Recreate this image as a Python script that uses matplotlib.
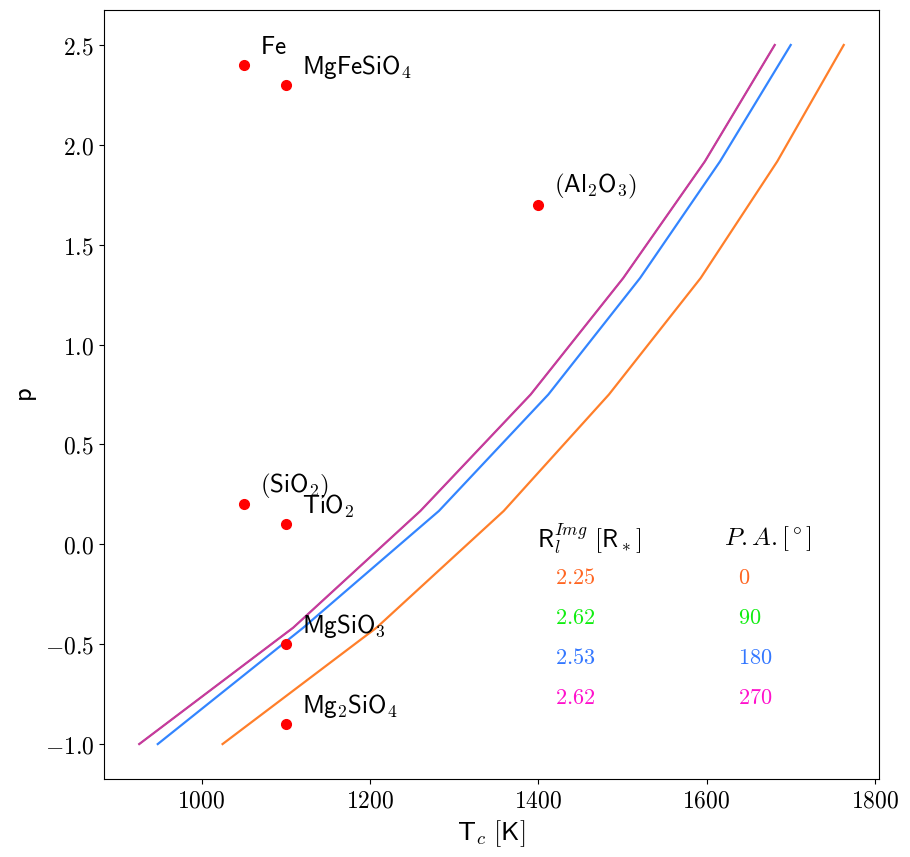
import matplotlib
matplotlib.use("Agg")
import matplotlib.pyplot as plt
from matplotlib.ticker import FuncFormatter

plt.rcParams['mathtext.fontset'] = 'cm'

# Condensation curves: pressure exponent p vs condensation temperature
p_vals = [-1.0, -0.417, 0.167, 0.75, 1.333, 1.917, 2.5]
T_pa0 = [1025, 1208, 1359, 1484, 1593, 1684, 1763]
T_pa90 = [926, 1109, 1260, 1391, 1501, 1598, 1681]
T_pa180 = [948, 1121, 1282, 1412, 1521, 1616, 1700]
T_pa270 = [926, 1109, 1260, 1391, 1501, 1598, 1681]

# Species
species = [r'$\mathsf{Fe}$', r'$\mathsf{MgFeSiO}_4$', r'$(\mathsf{Al}_2\mathsf{O}_3)$',
           r'$(\mathsf{SiO}_2)$', r'$\mathsf{TiO}_2$', r'$\mathsf{MgSiO}_3$',
           r'$\mathsf{Mg}_2\mathsf{SiO}_4$']
species_T = [1050, 1100, 1400, 1050, 1100, 1100, 1100]
species_p = [2.4, 2.3, 1.7, 0.2, 0.1, -0.5, -0.9]

# Table
radii = ['2.25', '2.62', '2.53', '2.62']
pas = ['0', '90', '180', '270']
text_colors = ['#ff6622', '#11ee11', '#3377ff', '#ff11cc']

fig = plt.figure(figsize=(9.10, 8.57), dpi=100)
ax = fig.add_axes([0.1143, 0.0910, 0.8516, 0.8973])

ax.plot(T_pa0, p_vals, color='#ff7f2a', lw=1.6)
ax.plot(T_pa90, p_vals, color='#22ee22', lw=1.0)
ax.plot(T_pa180, p_vals, color='#3385ff', lw=1.6)
ax.plot(T_pa270, p_vals, color='#c8389e', lw=1.6)

ax.plot(species_T, species_p, 'o', color='red', ms=7, ls='none')
for name, t, p in zip(species, species_T, species_p):
    ax.annotate(name, (t, p), xytext=(16, 18), textcoords='offset pixels',
                fontsize=18, va='center', ha='left')

ax.xaxis.set_major_formatter(FuncFormatter(lambda v, pos: r'$%d$' % v))
ax.yaxis.set_major_formatter(FuncFormatter(lambda v, pos: r'$%.1f$' % v))
ax.tick_params(labelsize=17)
ax.set_xlabel(r'$\mathsf{T}_c\ \mathsf{[K]}$', fontsize=19)
ax.set_ylabel(r'$\mathsf{p}$', fontsize=19)

ax.text(0.559, 0.313, r'$\mathsf{R}_l^{Img}\ \mathsf{[R}_*\mathsf{]}$', transform=ax.transAxes,
        fontsize=18, va='center', ha='left')
ax.text(0.80, 0.313, r'$P.A.[^\circ]$', transform=ax.transAxes,
        fontsize=18, va='center', ha='left')
row_y = [0.2614, 0.2094, 0.1573, 0.1053]
for r, pa, c, y in zip(radii, pas, text_colors, row_y):
    ax.text(0.582, y, r'$%s$' % r, transform=ax.transAxes, fontsize=16,
            color=c, va='center', ha='left')
    ax.text(0.818, y, r'$%s$' % pa, transform=ax.transAxes, fontsize=16,
            color=c, va='center', ha='left')

fig.savefig('out.png', dpi=100)
